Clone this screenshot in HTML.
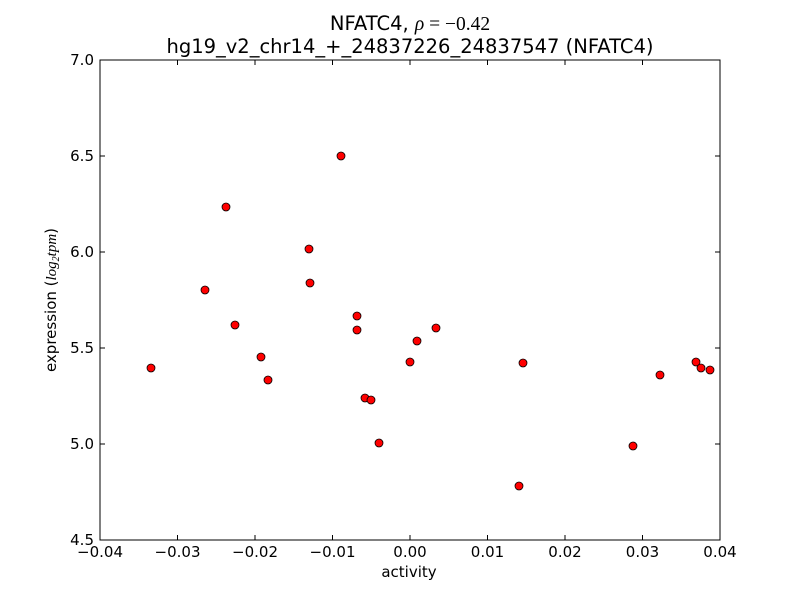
<!DOCTYPE html>
<html><head><meta charset="utf-8"><style>
body{margin:0;background:#fff;}
svg text{font-family:"DejaVu Sans","Liberation Sans",sans-serif;fill:#000;}
</style></head><body>
<svg width="800" height="600" viewBox="0 0 800 600" xmlns="http://www.w3.org/2000/svg">
<rect width="800" height="600" fill="#fff"/>
<rect x="100" y="60" width="620" height="480" fill="#fff" stroke="#000" stroke-width="1"/>
<g stroke="#000" stroke-width="1">
<path d="M177.5 540v-5M255 540v-5M332.5 540v-5M410 540v-5M487.5 540v-5M565 540v-5M642.5 540v-5
M177.5 60v5M255 60v5M332.5 60v5M410 60v5M487.5 60v5M565 60v5M642.5 60v5
M100 444h5M100 348h5M100 252h5M100 156h5
M720 444h-5M720 348h-5M720 252h-5M720 156h-5"/>
</g>
<g font-size="15" text-anchor="middle">
<text x="100" y="557">−0.04</text><text x="177.5" y="557">−0.03</text><text x="255" y="557">−0.02</text>
<text x="332.5" y="557">−0.01</text><text x="410" y="557">0.00</text><text x="487.5" y="557">0.01</text>
<text x="565" y="557">0.02</text><text x="642.5" y="557">0.03</text><text x="720" y="557">0.04</text>
<text x="409" y="577">activity</text>
</g>
<g font-size="15" text-anchor="end">
<text x="94" y="545">4.5</text><text x="94" y="449">5.0</text><text x="94" y="353">5.5</text>
<text x="94" y="257">6.0</text><text x="94" y="161">6.5</text><text x="94" y="65">7.0</text>
</g>
<text transform="translate(56,300) rotate(-90)" font-size="15" text-anchor="middle">expression (<tspan font-style="italic" font-family="Liberation Serif">log<tspan font-size="10" dy="3">2</tspan><tspan dy="-3">tpm</tspan></tspan>)</text>
<text x="410" y="30" font-size="19.5" text-anchor="middle">NFATC4, <tspan font-style="italic" font-family="Liberation Serif">ρ</tspan><tspan font-family="Liberation Serif"> = −0.42</tspan></text>
<text x="410" y="53" font-size="19.5" text-anchor="middle">hg19_v2_chr14_+_24837226_24837547 (NFATC4)</text>
<g fill="#ff0000" stroke="#000" stroke-width="0.8">
<circle cx="151" cy="368" r="4"/><circle cx="205" cy="290" r="4"/><circle cx="226" cy="207" r="4"/>
<circle cx="235" cy="325" r="4"/><circle cx="261" cy="357" r="4"/><circle cx="268" cy="380" r="4"/>
<circle cx="309" cy="249" r="4"/><circle cx="310" cy="283" r="4"/><circle cx="341" cy="156" r="4"/>
<circle cx="357" cy="316" r="4"/><circle cx="357" cy="330" r="4"/><circle cx="365" cy="398" r="4"/>
<circle cx="371" cy="400" r="4"/><circle cx="379" cy="443" r="4"/><circle cx="410" cy="362" r="4"/>
<circle cx="417" cy="341" r="4"/><circle cx="436" cy="328" r="4"/><circle cx="519" cy="486" r="4"/>
<circle cx="523" cy="363" r="4"/><circle cx="633" cy="446" r="4"/><circle cx="660" cy="375" r="4"/>
<circle cx="696" cy="362" r="4"/><circle cx="701" cy="368" r="4"/><circle cx="710" cy="370" r="4"/>
</g>
</svg>
</body></html>
